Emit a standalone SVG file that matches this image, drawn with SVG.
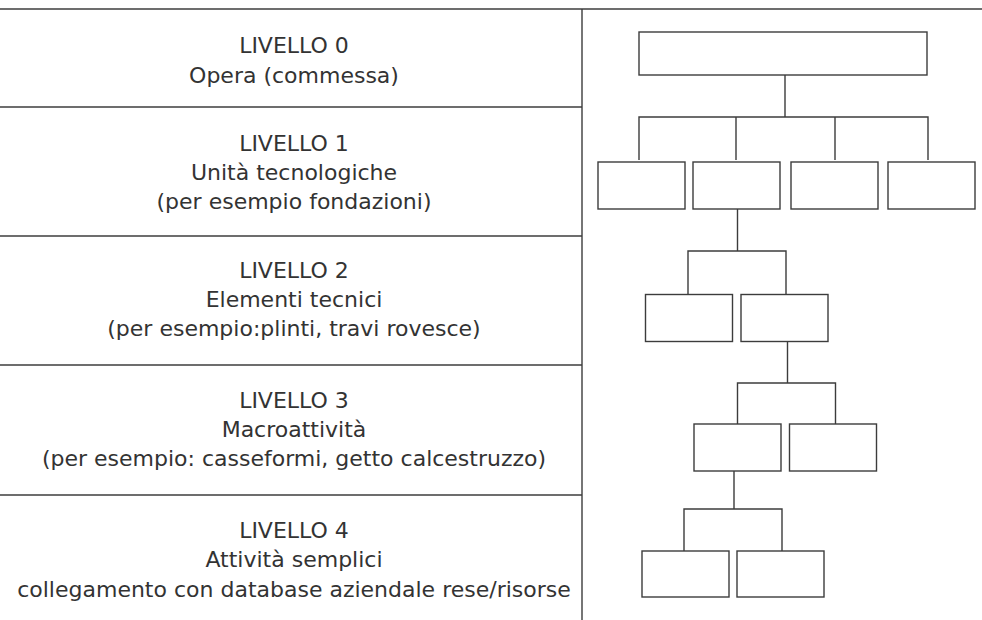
<svg xmlns="http://www.w3.org/2000/svg" width="982" height="620" viewBox="0 0 982 620">
  <style>
    .rule { stroke: #3c3c3c; stroke-width: 1.4; fill: none; }
    .box { fill: #ffffff; stroke: #3c3c3c; stroke-width: 1.4; }
    .wire { stroke: #3c3c3c; stroke-width: 1.4; fill: none; }
    .lbl { font-family: "DejaVu Sans", "Liberation Sans", sans-serif; font-size: 22px; fill: #333333; text-anchor: middle; }
  </style>
  <rect width="982" height="620" fill="#ffffff"/>

  <!-- table frame -->
  <g id="frame">
    <line class="rule" x1="0" y1="9" x2="982" y2="9"/>
    <line class="rule" x1="582" y1="9" x2="582" y2="620"/>
    <line class="rule" x1="0" y1="107" x2="582" y2="107"/>
    <line class="rule" x1="0" y1="236" x2="582" y2="236"/>
    <line class="rule" x1="0" y1="365" x2="582" y2="365"/>
    <line class="rule" x1="0" y1="495" x2="582" y2="495"/>
  </g>

  <!-- level descriptions -->
  <g id="level-0">
    <text class="lbl" x="294" y="53">LIVELLO 0</text>
    <text class="lbl" x="294" y="83">Opera (commessa)</text>
  </g>
  <g id="level-1">
    <text class="lbl" x="294" y="151">LIVELLO 1</text>
    <text class="lbl" x="294" y="180">Unità tecnologiche</text>
    <text class="lbl" x="294" y="209">(per esempio fondazioni)</text>
  </g>
  <g id="level-2">
    <text class="lbl" x="294" y="278">LIVELLO 2</text>
    <text class="lbl" x="294" y="307">Elementi tecnici</text>
    <text class="lbl" x="294" y="336">(per esempio:plinti, travi rovesce)</text>
  </g>
  <g id="level-3">
    <text class="lbl" x="294" y="408">LIVELLO 3</text>
    <text class="lbl" x="294" y="437">Macroattività</text>
    <text class="lbl" x="294" y="466">(per esempio: casseformi, getto calcestruzzo)</text>
  </g>
  <g id="level-4">
    <text class="lbl" x="294" y="538">LIVELLO 4</text>
    <text class="lbl" x="294" y="567">Attività semplici</text>
    <text class="lbl" x="294" y="597">collegamento con database aziendale rese/risorse</text>
  </g>

  <!-- tree connectors -->
  <g id="connectors">
    <path class="wire" d="M785 75 V117 M639 160 V117 H928 V160 M736 117 V160 M835 117 V160"/>
    <path class="wire" d="M737.5 209 V251 M688 294 V251 H786 V294"/>
    <path class="wire" d="M787.5 341 V383 M737.5 424 V383 H835.5 V424"/>
    <path class="wire" d="M734 471 V509 M684 551 V509 H782 V551"/>
  </g>

  <!-- tree nodes -->
  <g id="n0"><rect class="box" x="639" y="32" width="288" height="43"/></g>
  <g id="n1a"><rect class="box" x="598" y="162" width="87" height="47"/></g>
  <g id="n1b"><rect class="box" x="693" y="162" width="87" height="47"/></g>
  <g id="n1c"><rect class="box" x="791" y="162" width="87" height="47"/></g>
  <g id="n1d"><rect class="box" x="888" y="162" width="87" height="47"/></g>
  <g id="n2a"><rect class="box" x="645.5" y="294.5" width="87" height="47"/></g>
  <g id="n2b"><rect class="box" x="741" y="294.5" width="87" height="47"/></g>
  <g id="n3a"><rect class="box" x="694" y="424" width="87" height="47"/></g>
  <g id="n3b"><rect class="box" x="789.5" y="424" width="87" height="47"/></g>
  <g id="n4a"><rect class="box" x="642" y="551" width="87" height="46"/></g>
  <g id="n4b"><rect class="box" x="737" y="551" width="87" height="46"/></g>
</svg>
